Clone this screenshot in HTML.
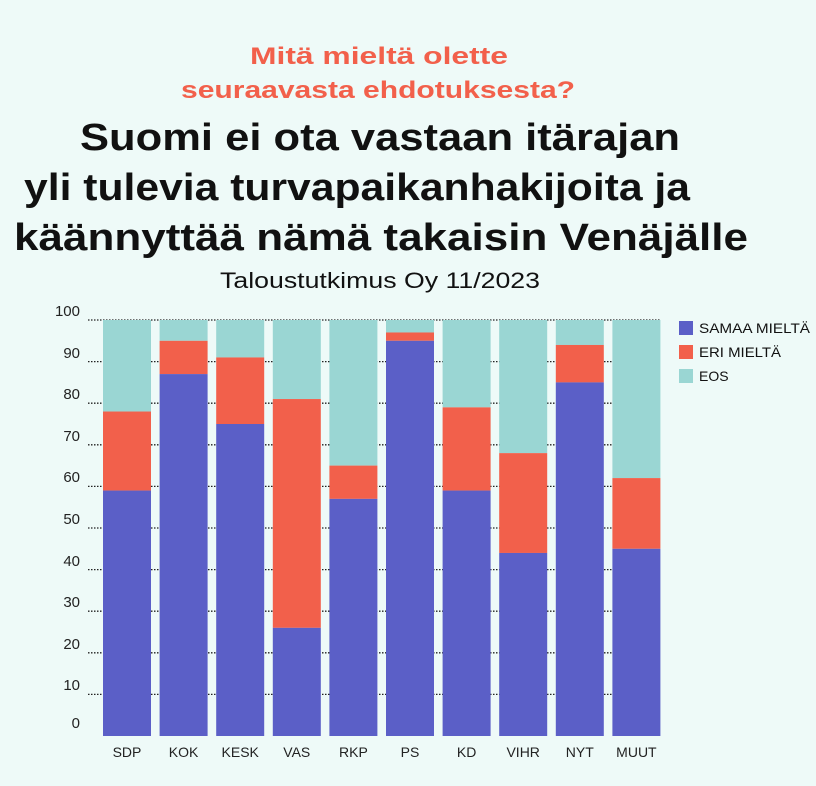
<!DOCTYPE html>
<html><head><meta charset="utf-8"><style>
html,body{margin:0;padding:0;background:#eefaf8;}
body{width:816px;height:781px;overflow:hidden;font-family:"Liberation Sans",sans-serif;}
</style></head><body>
<svg width="816" height="781" xmlns="http://www.w3.org/2000/svg" font-family="Liberation Sans, sans-serif">
<rect width="816" height="781" fill="#eefaf8"/>
<g>
<text x="250" y="64" font-size="24" font-weight="bold" fill="#f2604b" textLength="258" lengthAdjust="spacingAndGlyphs">Mitä mieltä olette</text>
<text x="181" y="98" font-size="24" font-weight="bold" fill="#f2604b" textLength="394" lengthAdjust="spacingAndGlyphs">seuraavasta ehdotuksesta?</text>
<text x="80" y="150" font-size="38" font-weight="bold" fill="#111" textLength="600" lengthAdjust="spacingAndGlyphs">Suomi ei ota vastaan itärajan</text>
<text x="24" y="200" font-size="38" font-weight="bold" fill="#111" textLength="666" lengthAdjust="spacingAndGlyphs">yli tulevia turvapaikanhakijoita ja</text>
<text x="14" y="250" font-size="38" font-weight="bold" fill="#111" textLength="734" lengthAdjust="spacingAndGlyphs">käännyttää nämä takaisin Venäjälle</text>
<text x="220" y="288" font-size="22" fill="#111" textLength="320" lengthAdjust="spacingAndGlyphs">Taloustutkimus Oy 11/2023</text>
</g>
<g stroke="#222" stroke-width="1.3" stroke-dasharray="1.5,1.5">
<line x1="88" x2="660" y1="320" y2="320"/><line x1="88" x2="660" y1="361.6" y2="361.6"/>
<line x1="88" x2="660" y1="403.2" y2="403.2"/><line x1="88" x2="660" y1="444.8" y2="444.8"/>
<line x1="88" x2="660" y1="486.4" y2="486.4"/><line x1="88" x2="660" y1="528" y2="528"/>
<line x1="88" x2="660" y1="569.6" y2="569.6"/><line x1="88" x2="660" y1="611.2" y2="611.2"/>
<line x1="88" x2="660" y1="652.8" y2="652.8"/><line x1="88" x2="660" y1="694.4" y2="694.4"/>
</g>
<g font-size="15" fill="#222" text-anchor="end">
<text x="80" y="316">100</text><text x="80" y="358">90</text><text x="80" y="399">80</text>
<text x="80" y="441">70</text><text x="80" y="482">60</text><text x="80" y="524">50</text>
<text x="80" y="566">40</text><text x="80" y="607">30</text><text x="80" y="649">20</text>
<text x="80" y="690">10</text><text x="80" y="728">0</text>
</g>
<g id="bars"></g>
<g font-size="14" fill="#222" text-anchor="middle" id="lbls"></g>
<rect x="679" y="321" width="14" height="14" fill="#5b5fc7"/>
<rect x="679" y="345" width="14" height="14" fill="#f2604b"/>
<rect x="679" y="369" width="14" height="14" fill="#9ad6d3"/>
<g font-size="14" fill="#111"><text x="699" y="333" textLength="111" lengthAdjust="spacingAndGlyphs">SAMAA MIELTÄ</text><text x="699" y="357" textLength="82" lengthAdjust="spacingAndGlyphs">ERI MIELTÄ</text><text x="699" y="381">EOS</text></g>
<script>
var d=[["SDP",59,78],["KOK",87,95],["KESK",75,91],["VAS",26,81],["RKP",57,65],["PS",95,97],["KD",59,79],["VIHR",44,68],["NYT",85,94],["MUUT",45,62]];
var ns="http://www.w3.org/2000/svg",b=document.getElementById("bars"),l=document.getElementById("lbls");
function r(x,y1,y2,c){var e=document.createElementNS(ns,"rect");e.setAttribute("x",x);e.setAttribute("y",y1);e.setAttribute("width",48);e.setAttribute("height",y2-y1);e.setAttribute("fill",c);b.appendChild(e);}
d.forEach(function(v,i){var x=103+i*56.6,Y=function(p){return 736-p*4.16};
r(x,320,Y(v[2]),"#9ad6d3");r(x,Y(v[2]),Y(v[1]),"#f2604b");r(x,Y(v[1]),736,"#5b5fc7");
var t=document.createElementNS(ns,"text");t.setAttribute("x",x+24);t.setAttribute("y",757);t.textContent=v[0];l.appendChild(t);});
</script>
</svg>
</body></html>
